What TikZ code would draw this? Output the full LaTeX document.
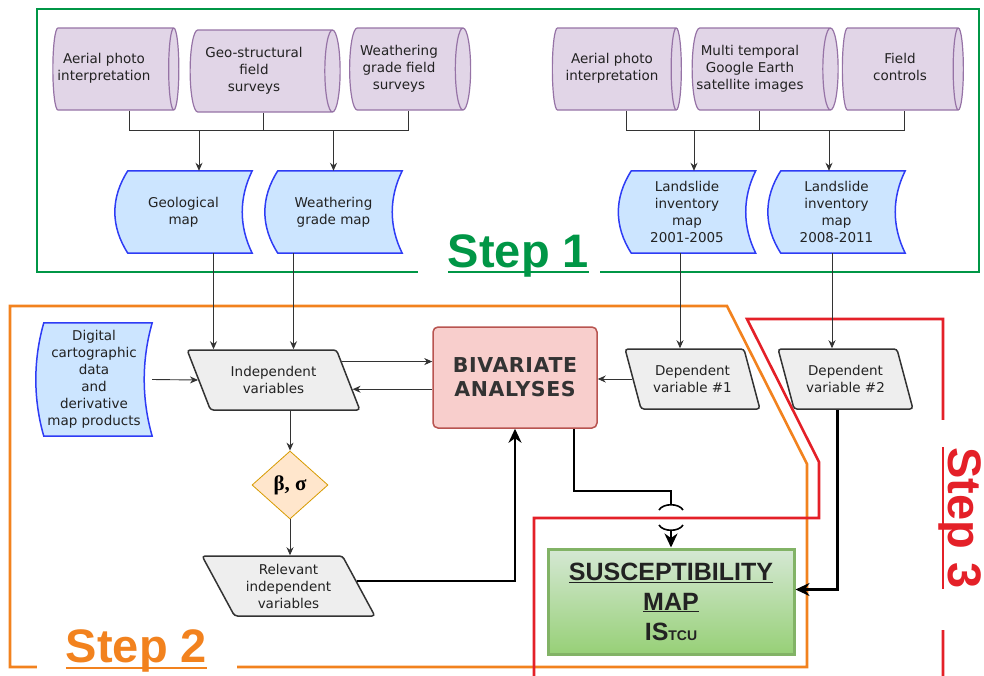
\documentclass[tikz,border=0pt]{standalone}
\usepackage{fontspec}
\setmainfont{DejaVu Sans}
\newfontfamily\arialfont{Liberation Sans}
\newfontfamily\timesfont{Liberation Serif}
\newfontfamily\bivfont[LetterSpace=3]{DejaVu Sans}
\usetikzlibrary{shapes.geometric,arrows.meta,calc,backgrounds}

\definecolor{stepone}{RGB}{0,150,70}
\definecolor{steptwo}{RGB}{242,130,30}
\definecolor{stepthree}{RGB}{228,32,40}
\definecolor{purpfill}{HTML}{E1D5E7}
\definecolor{purpline}{HTML}{9673A6}
\definecolor{bluefill}{HTML}{CCE5FF}
\definecolor{blueline}{HTML}{2E3CF5}
\definecolor{grayfill}{HTML}{EEEEEE}
\definecolor{grayline}{HTML}{333333}
\definecolor{redfill}{HTML}{F8CECC}
\definecolor{redline}{HTML}{B85450}
\definecolor{orfill}{HTML}{FFE6CC}
\definecolor{orline}{HTML}{D79B00}
\definecolor{greenline}{HTML}{82B366}
\definecolor{greentop}{HTML}{D5E8D4}
\definecolor{greenbot}{HTML}{97D077}
\definecolor{txt}{HTML}{222222}

% text of a cylinder, pushed left off its end cap
\newcommand\cyltext[2]{\hspace*{-#1}\begin{tabular}{@{}c@{}}#2\end{tabular}}

\begin{document}
\begin{tikzpicture}[x=1pt,y=-1pt,
  every node/.style={font=\fontsize{13.5}{17}\selectfont, text=txt, align=center},
  source/.style={cylinder, shape border rotate=0, aspect=0.3, draw=purpline, fill=purpfill,
    line width=1.2pt, minimum width=82pt, inner sep=0pt},
  datamap/.style={minimum width=137pt, minimum height=82pt, inner sep=0pt},
  datashape/.style={draw=blueline, fill=bluefill, line width=1.5pt},
  var/.style={trapezium, trapezium left angle=120, trapezium right angle=60,
    trapezium stretches=true, draw=grayline, fill=grayfill, line width=1.5pt,
    rounded corners=3pt, minimum width=173pt, minimum height=60pt, inner sep=0pt},
  depvar/.style={var, trapezium left angle=114, trapezium right angle=66, minimum width=135pt},
  link/.style={draw=grayline, line width=0.9pt},
  arr/.style={link, -{Stealth[length=8pt,width=7pt]}},
  bigarr/.style={draw=black, line width=2.4pt, -{Stealth[length=14pt,width=13pt]}},
  region/.style={line width=2.6pt},
  steplabel/.style={font=\arialfont\bfseries\fontsize{47}{47}\selectfont, inner sep=0pt, anchor=base},
]
\useasboundingbox (0,0) rectangle (984,675);

% step frames
\draw[region, stepone] (37,9) rectangle (979,272);
\draw[region, steptwo] (10,306) -- (727,306) -- (807,464) -- (807,667) -- (10,667) -- cycle;
\draw[region, stepthree] (943,680) -- (943,319) -- (747,319) -- (819,462) -- (819,518)
  -- (534,518) -- (534,680);

\fill[white] (418,224) rectangle (600,283);
\node[steplabel, text=stepone] (s1) at (518.5,267) {Step 1};
\draw[stepone, line width=2pt] ([yshift=-5pt]s1.base west) -- ([yshift=-5pt]s1.base east);
\fill[white] (37,618) rectangle (237,675);
\node[steplabel, text=steptwo] (s2) at (136.5,662) {Step 2};
\draw[steptwo, line width=2pt] ([yshift=-6pt]s2.base west) -- ([yshift=-6pt]s2.base east);
\fill[white] (908,420) rectangle (984,630);
\node[steplabel, text=stepthree, rotate=-90] (s3) at (948,518) {Step 3};
\draw[stepthree, line width=2pt] ([xshift=-5pt]s3.base west) -- ([xshift=-5pt]s3.base east);

% sources
\node[source, minimum height=126pt] (aerone) at (113,69) {\cyltext{18pt}{Aerial photo\\interpretation}};
\node[source, minimum height=150pt] (geosurv) at (261,71) {\cyltext{14pt}{Geo-structural\\field\\surveys}};
\node[source, minimum height=121pt] (wgsurv) at (406,69) {\cyltext{14pt}{Weathering\\grade field\\surveys}};
\node[source, minimum height=129pt] (aertwo) at (614,69) {\cyltext{4pt}{Aerial photo\\interpretation}};
\node[source, minimum height=146pt] (gearth) at (761,69) {\cyltext{22pt}{Multi temporal\\Google Earth\\satellite images}};
\node[source, minimum height=121pt] (fieldc) at (900,69) {\cyltext{0pt}{Field\\controls}};

% maps
\node[datamap] (geomap) at (183.5,212) {Geological\\map};
\node[datamap] (wgmap) at (333.5,212) {Weathering\\grade map};
\node[datamap] (lsone) at (687,212) {Landslide\\inventory\\map\\2001-2005};
\node[datamap] (lstwo) at (836.5,212) {Landslide\\inventory\\map\\2008-2011};
\node[datamap, minimum width=116pt, minimum height=113pt] (digital) at (94,379.5)
  {Digital\\cartographic\\data\\and\\derivative\\map products};
\begin{scope}[on background layer]
  \foreach \n/\lb/\rb/\hh in {geomap/13/10/27, wgmap/13/10/27, lsone/13/10/27,
      lstwo/13/10/27, digital/8/8/37}
    \draw[datashape] ([xshift=\lb pt]\n.north west) -- (\n.north east)
      .. controls +(-1.33*\rb,\hh) and +(-1.33*\rb,-\hh) .. (\n.south east)
      -- ([xshift=\lb pt]\n.south west)
      .. controls +(-1.33*\lb,-\hh) and +(-1.33*\lb,\hh) .. ([xshift=\lb pt]\n.north west)
      -- cycle;
\end{scope}

% variables
\node[var] (indep) at (273.5,380) {Independent\\variables};
\node[depvar] (depone) at (692.5,379) {Dependent\\variable \#1};
\node[depvar] (deptwo) at (845.5,379) {Dependent\\variable \#2};
\node[var] (relev) at (288.5,586) {Relevant\\independent\\variables};

\node[draw=redline, fill=redfill, line width=1.5pt, rounded corners=5pt,
  minimum width=164pt, minimum height=101pt,
  font=\bivfont\bfseries\fontsize{20.5}{24}\selectfont, text=black!80] (biv) at (515,377.5)
  {BIVARIATE\\ANALYSES};
\node[diamond, draw=orline, fill=orfill, line width=0.8pt, minimum width=76pt,
  minimum height=68pt, inner sep=0pt, font=\timesfont\bfseries\fontsize{21}{21}\selectfont,
  text=black] (beta) at (290,485) {β, σ};
\node[draw=greenline, top color=greentop, bottom color=greenbot, line width=3pt,
  minimum width=246pt, minimum height=105pt,
  font=\arialfont\bfseries\fontsize{25}{30}\selectfont, text=txt] (susc) at (671,601.5)
  {\underline{SUSCEPTIBILITY}\\\underline{MAP}\\IS{\fontsize{14}{14}\selectfont TCU}};

% step 1 links
\coordinate (brk) at (0,130);
\draw[link] ([xshift=16pt]aerone.south) |- ([xshift=2pt]wgsurv.south |- brk)
  -- ([xshift=2pt]wgsurv.south);
\draw[link] ([xshift=2pt]geosurv.south) -- ([xshift=2pt]geosurv.south |- brk);
\draw[link] ([xshift=12pt]aertwo.south) |- ([xshift=4pt]fieldc.south |- brk)
  -- ([xshift=4pt]fieldc.south);
\draw[link] ([xshift=-2pt]gearth.south) -- ([xshift=-2pt]gearth.south |- brk);
\draw[arr] ([xshift=15.5pt]geomap.north |- brk) -- ([xshift=15.5pt]geomap.north);
\draw[arr] (wgmap.north |- brk) -- (wgmap.north);
\draw[arr] ([xshift=7pt]lsone.north |- brk) -- ([xshift=7pt]lsone.north);
\draw[arr] ([xshift=-7.5pt]lstwo.north |- brk) -- ([xshift=-7.5pt]lstwo.north);

% step 2 links
\draw[arr] ([xshift=30pt]geomap.south) -- ([xshift=30pt]geomap.south |- indep.north);
\draw[arr] ([xshift=-40pt]wgmap.south) -- ([xshift=-40pt]wgmap.south |- indep.north);
\draw[arr] ([xshift=-7pt]lsone.south) -- ([xshift=-7pt]lsone.south |- depone.north);
\draw[arr] ([xshift=-4.5pt]lstwo.south) -- ([xshift=-4.5pt]lstwo.south |- deptwo.north);
\draw[arr] (digital.east) -- (indep.left side);
\coordinate (ia) at ($(indep.top right corner)!.2!(indep.bottom right corner)$);
\coordinate (ib) at ($(indep.top right corner)!.65!(indep.bottom right corner)$);
\draw[arr] (ia) -- (ia -| biv.west);
\draw[arr] (ib -| biv.west) -- (ib);
\draw[arr] (depone.left side) -- (depone.left side -| biv.east);
\draw[arr] (beta.north |- indep.south) -- (beta.north);
\draw[arr] (beta.south) -- (beta.south |- relev.north);
\coordinate (ra) at ($(relev.top right corner)!.42!(relev.bottom right corner)$);
\draw[bigarr, line width=2.8pt] (ra) -| (biv.south);

% step 3 links
\coordinate (hopa) at (671,505);
\coordinate (hopb) at (671,530);
\draw[line width=2.2pt] ([xshift=59pt]biv.south) |- (hopa |- 0,491) -- (hopa);
\draw[line width=1.6pt] ([shift={(-12,5)}]hopa) .. controls +(4,-7) and +(-4,-7) .. ([shift={(12,5)}]hopa);
\draw[line width=1.6pt] ([shift={(-12,-5)}]hopb) .. controls +(4,7) and +(-4,7) .. ([shift={(12,-5)}]hopb);
\draw[bigarr, line width=2.2pt] (hopb) -- (susc.north);
\draw[bigarr, line width=2.2pt] ([xshift=-8pt]deptwo.south) |- ([yshift=12pt]susc.east);
\end{tikzpicture}
\end{document}
